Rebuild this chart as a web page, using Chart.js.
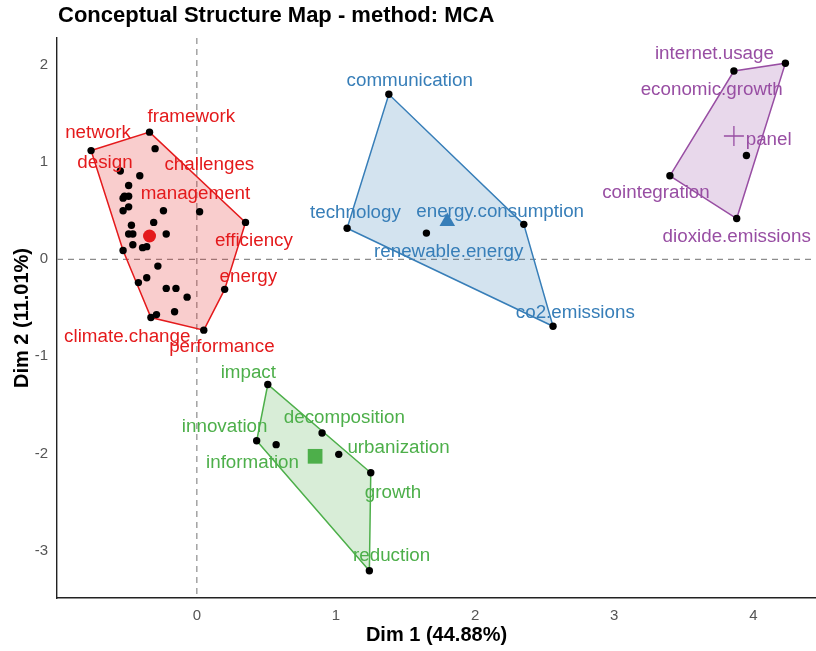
<!DOCTYPE html>
<html>
<head>
<meta charset="utf-8">
<script src="https://cdn.jsdelivr.net/npm/chart.js@4.4.1/dist/chart.umd.min.js"></script>
<style>
  html, body { margin: 0; padding: 0; background: #fff; overflow: hidden; }
  canvas { display: block; }
</style>
</head>
<body>
<canvas id="map" width="816" height="651"></canvas>
<script>
// ── Data (Dim 1, Dim 2) ──
const CLUSTER_NAMES = ['cluster1', 'cluster2', 'cluster3', 'cluster4'];
const CLUSTER_COLORS = ['#E41A1C', '#377EB8', '#4DAF4A', '#984EA3'];
const CLUSTER_FILLS = ['rgba(228,26,28,0.22)', 'rgba(55,126,184,0.22)', 'rgba(77,175,74,0.22)', 'rgba(152,78,163,0.22)'];
const CENTROID_STYLES = ['circle', 'triangle', 'rect', 'cross'];

const redDim1 = [-0.76, -0.34, -0.30, -0.55, -0.41, -0.49, -0.52, -0.49, -0.53, -0.49, -0.53, -0.24, 0.02, 0.35,
  -0.31, -0.47, -0.49, -0.46, -0.22, -0.46, -0.39, -0.36, -0.53, -0.28, -0.36, -0.42, -0.22, -0.15, -0.07, 0.20,
  -0.16, -0.33, -0.29, 0.05];
const redDim2 = [1.12, 1.31, 1.14, 0.91, 0.86, 0.76, 0.65, 0.65, 0.63, 0.54, 0.50, 0.50, 0.49, 0.38,
  0.38, 0.35, 0.26, 0.26, 0.26, 0.15, 0.12, 0.13, 0.09, -0.07, -0.19, -0.24, -0.30, -0.30, -0.39, -0.31,
  -0.54, -0.60, -0.57, -0.73];

const blueDim1 = [1.38, 1.08, 1.65, 2.35, 2.56];
const blueDim2 = [1.70, 0.32, 0.27, 0.36, -0.69];

const greenDim1 = [0.51, 0.43, 0.57, 0.90, 1.02, 1.25, 1.24];
const greenDim2 = [-1.29, -1.87, -1.91, -1.79, -2.01, -2.20, -3.21];

const purpleDim1 = [3.86, 4.23, 3.95, 3.40, 3.88];
const purpleDim2 = [1.94, 2.02, 1.07, 0.86, 0.42];

const centroidDim1 = [-0.34, 1.80, 0.85, 3.86];
const centroidDim2 = [0.24, 0.39, -2.03, 1.27];

// word labels (repelled label positions, data units)
const labelText = [
  ['network', 'framework', 'design', 'challenges', 'management', 'efficiency', 'energy', 'climate.change', 'performance'],
  ['communication', 'technology', 'energy.consumption', 'renewable.energy', 'co2.emissions'],
  ['impact', 'decomposition', 'innovation', 'urbanization', 'information', 'growth', 'reduction'],
  ['internet.usage', 'economic.growth', 'panel', 'cointegration', 'dioxide.emissions']
];
const labelDim1 = [
  [-0.71, -0.04, -0.66, 0.09, -0.01, 0.41, 0.37, -0.50, 0.18],
  [1.53, 1.14, 2.18, 1.81, 2.72],
  [0.37, 1.06, 0.20, 1.45, 0.40, 1.41, 1.40],
  [3.72, 3.70, 4.11, 3.30, 3.88]
];
const labelDim2 = [
  [1.30, 1.47, 0.99, 0.97, 0.67, 0.19, -0.18, -0.80, -0.90],
  [1.84, 0.48, 0.49, 0.08, -0.55],
  [-1.17, -1.63, -1.73, -1.94, -2.10, -2.41, -3.06],
  [2.12, 1.75, 1.23, 0.68, 0.23]
];

const xTicks = [0, 1, 2, 3, 4];
const yTicks = [-3, -2, -1, 0, 1, 2];
const X_RANGE = [-1.005, 4.45];
const Y_RANGE = [-3.49, 2.28];

const TITLE = 'Conceptual Structure Map - method: MCA';
const X_TITLE = 'Dim 1 (44.88%)';
const Y_TITLE = 'Dim 2 (11.01%)';

// ── Helpers ──
function toPoints(xs, ys) {
  return xs.map((x, i) => ({ x, y: ys[i] }));
}

// monotone chain convex hull, closed (first point repeated)
function convexHull(pts) {
  const p = [...pts].sort((a, b) => a.x - b.x || a.y - b.y);
  const cross = (o, a, b) => (a.x - o.x) * (b.y - o.y) - (a.y - o.y) * (b.x - o.x);
  const lower = [];
  p.forEach(pt => {
    while (lower.length >= 2 && cross(lower[lower.length - 2], lower[lower.length - 1], pt) <= 0) lower.pop();
    lower.push(pt);
  });
  const upper = [];
  [...p].reverse().forEach(pt => {
    while (upper.length >= 2 && cross(upper[upper.length - 2], upper[upper.length - 1], pt) <= 0) upper.pop();
    upper.push(pt);
  });
  const hull = lower.slice(0, -1).concat(upper.slice(0, -1));
  hull.push(hull[0]);
  return hull;
}

const clusters = [
  toPoints(redDim1, redDim2),
  toPoints(blueDim1, blueDim2),
  toPoints(greenDim1, greenDim2),
  toPoints(purpleDim1, purpleDim2)
];

// ── Datasets ──
const datasets = [];
clusters.forEach((pts, i) => {
  datasets.push({
    label: CLUSTER_NAMES[i] + ' hull',
    data: convexHull(pts),
    showLine: true,
    fill: 'shape',
    tension: 0,
    borderColor: CLUSTER_COLORS[i],
    borderWidth: 1.5,
    backgroundColor: CLUSTER_FILLS[i],
    pointRadius: 0,
    order: 3
  });
});
clusters.forEach((pts, i) => {
  datasets.push({
    label: CLUSTER_NAMES[i],
    data: pts,
    pointRadius: 3.7,
    pointBackgroundColor: '#000',
    pointBorderWidth: 0,
    order: 2
  });
});
const centroidRadius = [6.5, 9, 10.4, 10];
centroidDim1.forEach((x, i) => {
  datasets.push({
    label: CLUSTER_NAMES[i] + ' centroid',
    data: [{ x, y: centroidDim2[i] }],
    pointStyle: CENTROID_STYLES[i],
    pointRadius: centroidRadius[i],
    pointBackgroundColor: CLUSTER_COLORS[i],
    pointBorderColor: CLUSTER_COLORS[i],
    pointBorderWidth: CENTROID_STYLES[i] === 'cross' ? 1.3 : 0,
    order: 1
  });
});

// ── Plugins ──
const zeroLines = {
  id: 'zeroLines',
  beforeDatasetsDraw(chart) {
    const { ctx, chartArea: a, scales: { x, y } } = chart;
    ctx.save();
    ctx.strokeStyle = '#8c8c8c';
    ctx.lineWidth = 1.2;
    ctx.setLineDash([6, 5]);
    const x0 = x.getPixelForValue(0);
    const y0 = y.getPixelForValue(0);
    ctx.beginPath();
    ctx.moveTo(x0, a.top); ctx.lineTo(x0, a.bottom);
    ctx.moveTo(a.left, y0); ctx.lineTo(a.right, y0);
    ctx.stroke();
    ctx.restore();
  }
};

const wordLabels = {
  id: 'wordLabels',
  afterDatasetsDraw(chart) {
    const { ctx, scales: { x, y } } = chart;
    ctx.save();
    ctx.font = '18.8px "Liberation Sans", Arial, sans-serif';
    ctx.textAlign = 'center';
    ctx.textBaseline = 'middle';
    labelText.forEach((words, c) => {
      ctx.fillStyle = CLUSTER_COLORS[c];
      words.forEach((w, j) => {
        ctx.fillText(w, x.getPixelForValue(labelDim1[c][j]), y.getPixelForValue(labelDim2[c][j]));
      });
    });
    ctx.restore();
  }
};

const plotTitle = {
  id: 'plotTitle',
  afterDraw(chart) {
    const { ctx } = chart;
    ctx.save();
    ctx.font = 'bold 22px "Liberation Sans", Arial, sans-serif';
    ctx.fillStyle = '#000';
    ctx.textBaseline = 'middle';
    ctx.fillText(TITLE, 58, 16);
    ctx.restore();
  }
};

// ── Chart ──
new Chart(document.getElementById('map'), {
  type: 'scatter',
  data: { datasets },
  options: {
    responsive: false,
    animation: false,
    events: [],
    layout: { autoPadding: false, padding: { top: 38, right: 0, left: 0, bottom: 0 } },
    plugins: {
      legend: { display: false },
      tooltip: { enabled: false }
    },
    scales: {
      x: {
        type: 'linear',
        min: X_RANGE[0],
        max: X_RANGE[1],
        afterBuildTicks: s => { s.ticks = xTicks.map(v => ({ value: v })); },
        afterFit: s => { s.height = 53; s.paddingLeft = 0; s.paddingRight = 0; },
        grid: { display: false, drawTicks: false },
        border: { display: true, color: '#222', width: 1.4 },
        ticks: { color: '#555', font: { size: 15, family: '"Liberation Sans", Arial' }, padding: 9 },
        title: { display: true, text: X_TITLE, color: '#000', font: { size: 20, weight: 'bold', family: '"Liberation Sans", Arial' }, padding: { top: 3 } }
      },
      y: {
        type: 'linear',
        min: Y_RANGE[0],
        max: Y_RANGE[1],
        afterBuildTicks: s => { s.ticks = yTicks.map(v => ({ value: v })); },
        afterFit: s => { s.width = 57; s.paddingTop = 0; s.paddingBottom = 0; },
        grid: { display: false, drawTicks: false },
        border: { display: true, color: '#222', width: 1.4 },
        ticks: { color: '#555', font: { size: 15, family: '"Liberation Sans", Arial' }, padding: 9 },
        title: { display: true, text: Y_TITLE, color: '#000', font: { size: 20, weight: 'bold', family: '"Liberation Sans", Arial' }, padding: { top: 10 } }
      }
    }
  },
  plugins: [zeroLines, wordLabels, plotTitle]
});
</script>
</body>
</html>
